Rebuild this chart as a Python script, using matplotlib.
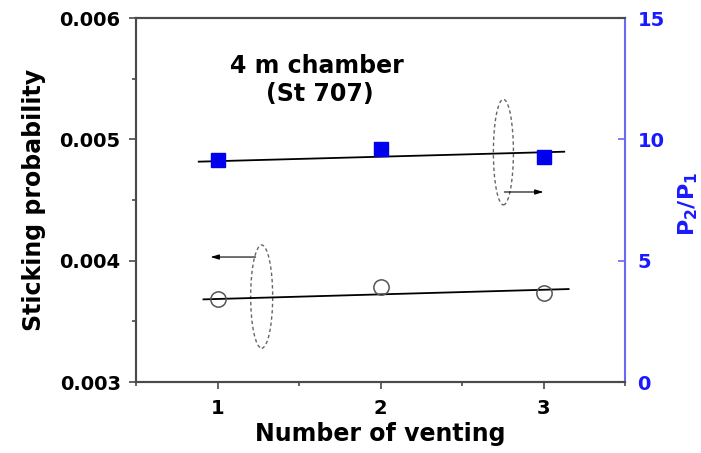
import matplotlib
matplotlib.use("Agg")
import matplotlib.pyplot as plt
from matplotlib.patches import Ellipse
from matplotlib.ticker import MultipleLocator

plt.rcParams['font.family'] = ['DejaVu Sans']
plt.rcParams['font.weight'] = 'bold'

# data
venting = [1, 2, 3]
sticking = [0.003683, 0.003785, 0.003735]
p_ratio = [9.15, 9.59, 9.26]
fit_x = [0.914, 3.154]
fit_sticking = [0.003681, 0.003766]
fit_x2 = [0.885, 3.127]
fit_ratio = [9.08, 9.49]
xticks = [1, 2, 3]
yticks_left = [0.003, 0.004, 0.005, 0.006]
yticks_right = [0, 5, 10, 15]

gray = '#4a4a4a'
blue = '#1a1aff'
spine_blue = '#6a6af0'

fig = plt.figure(figsize=(7.01, 4.53), dpi=100)
ax = fig.add_axes([136/701, 1-382/453, (625-136)/701, (382-18)/453])
ax2 = ax.twinx()

ax.set_xlim(0.5, 3.5)
ax.set_ylim(0.003, 0.006)
ax2.set_ylim(0, 15)

ax.plot(fit_x, fit_sticking, color='black', lw=1.3, zorder=3)
ax.plot(venting, sticking, 'o', ms=11, mfc='none', mec='#555555', mew=1.1, zorder=4)
ax2.plot(fit_x2, fit_ratio, color='black', lw=1.3, zorder=3)
ax2.plot(venting, p_ratio, 's', ms=9.5, color='#0000ee', zorder=4)

# annotations: dashed ellipses and arrows
ax.add_patch(Ellipse((2.754, 0.004895), 0.123, 0.00087, fill=False,
                     ls=(0, (2.5, 2)), lw=1.0, ec='#666666', zorder=2))
ax.add_patch(Ellipse((1.271, 0.003704), 0.135, 0.00085, fill=False,
                     ls=(0, (2.5, 2)), lw=1.0, ec='#666666', zorder=2))
ax.annotate('', xy=(3.0, 0.004566), xytext=(2.76, 0.004566),
            arrowprops=dict(arrowstyle='-|>,head_length=0.5,head_width=0.15',
                            color='black', lw=0.8, shrinkA=0, shrinkB=0))
ax.annotate('', xy=(0.957, 0.00403), xytext=(1.234, 0.00403),
            arrowprops=dict(arrowstyle='-|>,head_length=0.5,head_width=0.15',
                            color='black', lw=0.8, shrinkA=0, shrinkB=0))

ax.text(317/701, 1-66/453, '4 m chamber', transform=fig.transFigure,
        ha='center', va='center', fontsize=17, fontweight='bold')
ax.text(320/701, 1-94/453, '(St 707)', transform=fig.transFigure,
        ha='center', va='center', fontsize=17, fontweight='bold')

ax.set_xticks(xticks)
ax.set_yticks(yticks_left)
ax.set_yticklabels([f'{v:.3f}' for v in yticks_left])
ax.xaxis.set_minor_locator(MultipleLocator(0.5))
ax.yaxis.set_minor_locator(MultipleLocator(0.0005))
ax2.set_yticks(yticks_right)

ax.tick_params(axis='both', which='major', direction='out', length=5, width=1.2,
               color=gray, labelsize=14, pad=6)
ax.tick_params(axis='both', which='minor', direction='out', length=3, width=1.2,
               color=gray)
ax.tick_params(axis='x', which='major', pad=7)
ax2.tick_params(axis='y', which='major', direction='in', length=5, width=1.2,
                color=spine_blue, labelcolor=blue, labelsize=14, pad=9)

for s in ['left', 'bottom', 'top']:
    ax.spines[s].set_color(gray)
    ax.spines[s].set_linewidth(1.5)
    ax2.spines[s].set_color(gray)
    ax2.spines[s].set_linewidth(1.5)
ax2.spines['right'].set_color(spine_blue)
ax2.spines['right'].set_linewidth(1.5)
ax.spines['right'].set_visible(False)

ax.set_xlabel('Number of venting', fontsize=17, fontweight='bold', labelpad=3)
ax.set_ylabel('Sticking probability', fontsize=17, fontweight='bold', labelpad=10)
fig.text(676/701, 1-204/453, r'P$_\mathbf{2}$/P$_\mathbf{1}$', rotation=90,
         ha='left', va='center', fontsize=16, fontweight='bold', color=blue)

fig.savefig('out.png', dpi=100)
